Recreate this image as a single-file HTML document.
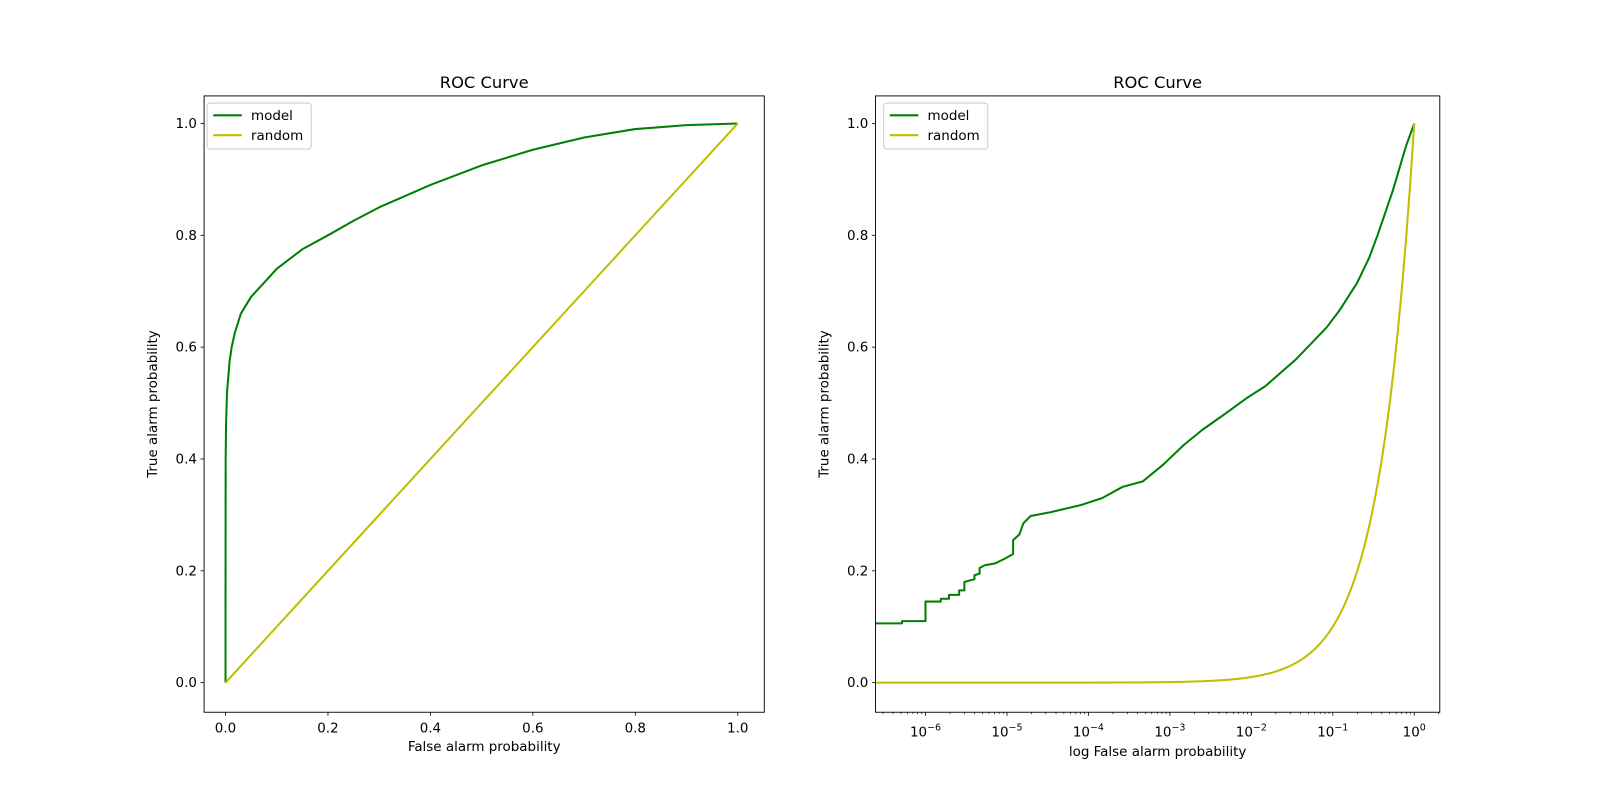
<!DOCTYPE html>
<html><head><meta charset="utf-8"><style>
html,body{margin:0;padding:0;background:#fff}
svg{display:block;font-family:"DejaVu Sans","Liberation Sans",sans-serif}
</style></head><body>
<svg id="c" width="1600" height="800" viewBox="0 0 1600 800"><g id="root" transform="scale(1.0204)"></g></svg>
<script>
const yTicks=[0,0.2,0.4,0.6,0.8,1.0];
const xTicksLin=[0,0.2,0.4,0.6,0.8,1.0];
const xTicksLogExp=[-6,-5,-4,-3,-2,-1,0];
const leftModelFpr=[0,0,0.0003,0.001,0.003,0.008,0.012,0.018,0.03,0.05,0.07,0.1,0.15,0.2,0.25,0.3,0.4,0.5,0.6,0.7,0.8,0.9,1];
const leftModelTpr=[0,0.1,0.4,0.46,0.52,0.575,0.6,0.625,0.66,0.69,0.71,0.74,0.775,0.8,0.826,0.85,0.89,0.925,0.953,0.975,0.99,0.997,1];
const randomFpr=[0,1];
const randomTpr=[0,1];
const rightModelFpr=[2.45e-7,5.15e-7,5.15e-7,1e-6,1e-6,1.54e-6,1.54e-6,1.94e-6,1.94e-6,2.59e-6,2.59e-6,3.0e-6,3.0e-6,3.99e-6,3.99e-6,4.61e-6,4.61e-6,5.33e-6,7.11e-6,9.48e-6,1.19e-5,1.19e-5,1.42e-5,1.59e-5,1.95e-5,3.47e-5,8.26e-5,1.47e-4,2.62e-4,4.66e-4,8.3e-4,1.48e-3,2.5e-3,4.68e-3,0.009,0.0148,0.0352,0.0837,0.12,0.199,0.28,0.354,0.546,0.794,1];
const rightModelTpr=[0.106,0.106,0.11,0.11,0.145,0.145,0.15,0.15,0.157,0.157,0.165,0.165,0.18,0.185,0.192,0.195,0.205,0.21,0.213,0.222,0.23,0.255,0.265,0.285,0.298,0.305,0.318,0.33,0.35,0.36,0.39,0.425,0.452,0.48,0.51,0.53,0.578,0.635,0.665,0.715,0.76,0.8,0.88,0.96,1.0];

const NS="http://www.w3.org/2000/svg";
const svg=document.getElementById('root');
function mk(tag,attrs,parent){const e=document.createElementNS(NS,tag);for(const k in attrs)e.setAttribute(k,attrs[k]);(parent||svg).appendChild(e);return e;}
function yS(v){return 669-548*v;}
function xL(v){return 221+502*v;}
function xR(v){return 907+79.83*(Math.log10(v)+6);}

const defs=mk('defs',{});
const cl1=mk('clipPath',{id:'clipL'},defs);mk('rect',{x:200,y:94,width:549,height:604},cl1);
const cl2=mk('clipPath',{id:'clipR'},defs);mk('rect',{x:858,y:94,width:553,height:604},cl2);

function drawPanel(x0,x1,xf,xticks,xlabels,xlabel,xlabelY,clip,series,legX,isLog){
  const g=mk('g',{});
  
  
  const t=mk('text',{x:(x0+x1)/2,y:86,'font-size':16,'text-anchor':'middle',fill:'#000'},g);t.textContent='ROC Curve';
  
  yTicks.forEach(v=>{
    const y=yS(v);
    mk('line',{x1:x0-3.4,x2:x0,y1:y,y2:y,stroke:'#000','stroke-width':0.8},g);
    const tx=mk('text',{x:x0-7,y:y+4.5,'font-size':13.2,'text-anchor':'end'},g);tx.textContent=v.toFixed(1);
    
  });
  xticks.forEach((v,i)=>{
    const x=xf(v);
    mk('line',{x1:x,x2:x,y1:698,y2:701.4,stroke:'#000','stroke-width':0.8},g);
    const tx=mk('text',{x:x,y:isLog?722:718,'font-size':13.2,'text-anchor':'middle'},g);
    if(isLog){
      tx.textContent='10';
      const s=mk('tspan',{dy:-6,'font-size':9.3},tx);s.textContent=xlabels[i];
    } else tx.textContent=xlabels[i];
    
  });
  if(isLog){
    for(let e=-7;e<=0;e++)for(let m=2;m<=9;m++){const v=m*Math.pow(10,e);const x=xR(v);if(x>x0&&x<x1)mk('line',{x1:x,x2:x,y1:698,y2:700,stroke:'#000','stroke-width':0.6},g);}
  }
  const xl=mk('text',{x:(x0+x1)/2,y:xlabelY,'font-size':13.2,'text-anchor':'middle'},g);xl.textContent=xlabel;
  
  const yl=mk('text',{x:0,y:0,'font-size':13.2,'text-anchor':'middle',transform:`translate(${x0-46},396) rotate(-90)`},g);yl.textContent='True alarm probability';
  
  const sg=mk('g',{'clip-path':`url(#${clip})`},g);
  series.forEach(s=>{
    const pts=s.x.map((v,i)=>xf(v).toFixed(2)+','+yS(s.y[i]).toFixed(2)).join(' ');
    const p=mk('polyline',{points:pts,fill:'none',stroke:s.c,'stroke-width':2,'stroke-linejoin':'round'},sg);
    
  });
  mk('rect',{x:x0,y:94,width:x1-x0,height:604,fill:'none',stroke:'#000','stroke-width':0.9},g);
  const lg=mk('g',{},g);
  
  mk('rect',{x:legX,y:101,width:102,height:45,rx:3,fill:'#fff','fill-opacity':0.8,stroke:'#ccc'},lg);
  series.forEach((s,i)=>{
    const y=113+i*19.5;
    mk('line',{x1:legX+6,x2:legX+34,y1:y,y2:y,stroke:s.c,'stroke-width':2},lg);
    const tx=mk('text',{x:legX+43,y:y+4.5,'font-size':13.2},lg);tx.textContent=s.n;
    
  });
}
drawPanel(200,749,xL,xTicksLin,xTicksLin.map(v=>v.toFixed(1)),'False alarm probability',736,'clipL',
  [{x:leftModelFpr,y:leftModelTpr,c:'#008000',n:'model'},{x:randomFpr,y:randomTpr,c:'#bfbf00',n:'random'}],203,false);
const logRandFpr=[];const logRandTpr=[];
for(let e=-7;e<=0.0001;e+=0.05){logRandFpr.push(Math.pow(10,e));logRandTpr.push(Math.pow(10,e));}
drawPanel(858,1411,xR,xTicksLogExp.map(e=>Math.pow(10,e)),xTicksLogExp.map(e=>e===0?'0':'\u2212'+(-e)),'log False alarm probability',741,'clipR',
  [{x:rightModelFpr,y:rightModelTpr,c:'#008000',n:'model'},{x:logRandFpr,y:logRandTpr,c:'#bfbf00',n:'random'}],866,true);
</script>
</body></html>
